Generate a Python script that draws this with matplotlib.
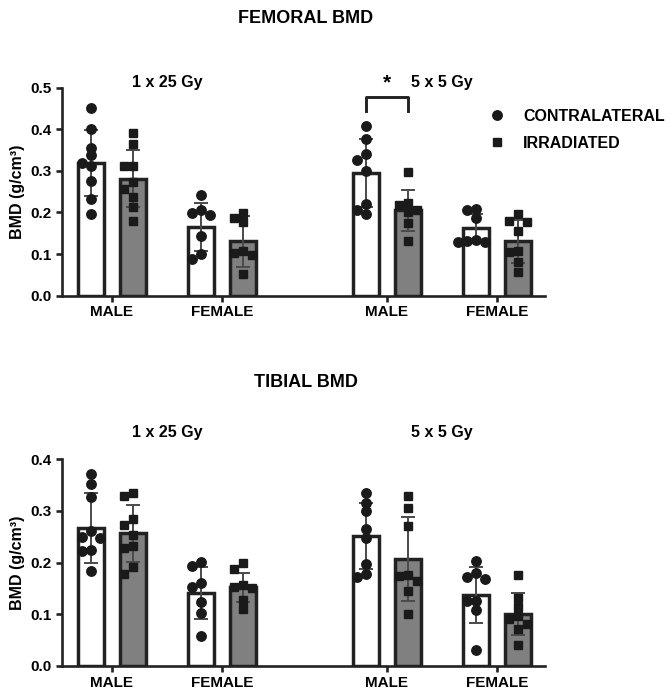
import numpy as np
import matplotlib
matplotlib.use("Agg")
import matplotlib.pyplot as plt
import matplotlib.transforms as mtrans
from matplotlib.lines import Line2D

plt.rcParams['font.family'] = ['Liberation Sans', 'DejaVu Sans']
plt.rcParams['font.weight'] = 'bold'
plt.rcParams['axes.labelweight'] = 'bold'

# group order: 1x25 male, 1x25 female, 5x5 male, 5x5 female
groups = ['MALE', 'FEMALE', 'MALE', 'FEMALE']
doses = ['1 x 25 Gy', '5 x 5 Gy']

# femoral BMD (g/cm3)
fem_contra_pts = [
    [0.452, 0.401, 0.356, 0.337, 0.320, 0.312, 0.276, 0.232, 0.196],
    [0.242, 0.206, 0.199, 0.194, 0.144, 0.099, 0.088],
    [0.409, 0.376, 0.340, 0.326, 0.300, 0.220, 0.206, 0.196],
    [0.208, 0.205, 0.186, 0.133, 0.132, 0.130, 0.128],
]
fem_contra_mean = [0.319, 0.165, 0.295, 0.162]
fem_contra_sd = [0.080, 0.058, 0.081, 0.035]
fem_irr_pts = [
    [0.390, 0.364, 0.312, 0.312, 0.274, 0.256, 0.238, 0.212, 0.180],
    [0.198, 0.186, 0.176, 0.107, 0.102, 0.098, 0.052],
    [0.298, 0.222, 0.218, 0.206, 0.200, 0.175, 0.131],
    [0.196, 0.180, 0.178, 0.155, 0.108, 0.106, 0.082, 0.058],
]
fem_irr_mean = [0.281, 0.131, 0.205, 0.131]
fem_irr_sd = [0.069, 0.061, 0.049, 0.052]

# tibial BMD (g/cm3)
tib_contra_pts = [
    [0.372, 0.352, 0.326, 0.262, 0.250, 0.248, 0.225, 0.222, 0.183],
    [0.201, 0.194, 0.161, 0.152, 0.123, 0.103, 0.058],
    [0.334, 0.315, 0.299, 0.265, 0.247, 0.197, 0.178, 0.173],
    [0.203, 0.179, 0.172, 0.169, 0.125, 0.125, 0.108, 0.030],
]
tib_contra_mean = [0.267, 0.141, 0.252, 0.138]
tib_contra_sd = [0.067, 0.051, 0.064, 0.054]
tib_irr_pts = [
    [0.335, 0.329, 0.284, 0.273, 0.254, 0.232, 0.228, 0.192, 0.178],
    [0.200, 0.188, 0.157, 0.153, 0.150, 0.128, 0.110],
    [0.329, 0.305, 0.270, 0.176, 0.174, 0.165, 0.145, 0.101],
    [0.176, 0.131, 0.114, 0.096, 0.090, 0.082, 0.072, 0.041],
]
tib_irr_mean = [0.257, 0.152, 0.207, 0.101]
tib_irr_sd = [0.055, 0.028, 0.082, 0.041]

xpos = np.array([0, 1, 2.5, 3.5])
off = 0.19
bw = 0.235
edge = '#222222'
grey = '#808080'
fig = plt.figure(figsize=(6.69, 6.97), dpi=100)


def swarm(vals, xc, sx, sy, d=9.0, tol=7.5):
    # center-first swarm layout in pixel space, small overlap allowed
    placed, xs = [], []
    cands = [0, -1, 1, -0.5, 0.5, -1.5, 1.5, -2, 2]
    for v in vals:
        y = v * sy
        for c in cands:
            if all((c * d - px) ** 2 + (y - py) ** 2 >= tol ** 2 for px, py in placed):
                break
        placed.append((c * d, y))
        xs.append(xc + c * d / sx)
    return xs


def panel(rect, cp, cm, cs, ip, im, isd, ymax):
    ax = fig.add_axes(rect)
    sx = rect[2] * 669 / (3.936 + 0.457)
    sy = rect[3] * 697 / ymax
    for pts, m, s, dx, fc, mk in [(cp, cm, cs, -off, 'white', 'o'), (ip, im, isd, off, grey, 's')]:
        ax.bar(xpos + dx, m, width=bw, color=fc, edgecolor=edge, linewidth=2.5, zorder=1)
        ax.errorbar(xpos + dx, m, yerr=s, fmt='none', ecolor='#4a4a4a', elinewidth=1.4,
                    capsize=5, capthick=1.4, zorder=2)
        for i in range(4):
            xs = swarm(pts[i], xpos[i] + dx, sx, sy)
            ax.plot(xs, pts[i], ls='', marker=mk, color='#1a1a1a', ms=6.8 if mk == 'o' else 6.2,
                    zorder=3, clip_on=False)
    ax.set_xlim(-0.457, 3.936)
    ax.set_ylim(0, ymax)
    ticks = np.arange(0, ymax + 0.01, 0.1)
    ax.set_yticks(ticks)
    ax.set_yticklabels(['%.1f' % t for t in ticks])
    ax.set_xticks(xpos)
    ax.set_xticklabels(groups)
    for sp in ['top', 'right']:
        ax.spines[sp].set_visible(False)
    for sp in ['left', 'bottom']:
        ax.spines[sp].set_linewidth(1.9)
        ax.spines[sp].set_color(edge)
    ax.tick_params(width=1.9, length=4, labelsize=11, color=edge, pad=3)
    ax.set_ylabel('BMD (g/cm³)', fontsize=11.5, labelpad=4)
    return ax


ax1 = panel([0.0922, 0.5758, 0.7224, 0.2984], fem_contra_pts, fem_contra_mean, fem_contra_sd,
            fem_irr_pts, fem_irr_mean, fem_irr_sd, 0.5)
ax2 = panel([0.0922, 0.0445, 0.7224, 0.2966], tib_contra_pts, tib_contra_mean, tib_contra_sd,
            tib_irr_pts, tib_irr_mean, tib_irr_sd, 0.4)

# significance bracket
x0, x1 = xpos[2] - off, xpos[2] + off
ax1.plot([x0, x0, x1, x1], [0.445, 0.478, 0.478, 0.445], color=edge, lw=2.1, clip_on=False)
ax1.text((x0 + x1) / 2, 0.488, '*', ha='center', va='bottom', fontsize=15)

# titles
fig.text(0.457, 0.974, 'FEMORAL BMD', ha='center', va='center', fontsize=13)
fig.text(0.457, 0.451, 'TIBIAL BMD', ha='center', va='center', fontsize=13)
for ax, yt in [(ax1, 0.882), (ax2, 0.380)]:
    tr = mtrans.blended_transform_factory(ax.transData, fig.transFigure)
    for j, lab in enumerate(doses):
        xc = (xpos[2 * j] + xpos[2 * j + 1]) / 2
        ax.text(xc, yt, lab, transform=tr, ha='center', va='center', fontsize=11.5)

handles = [Line2D([], [], ls='', marker='o', color='#1a1a1a', ms=6.8, label='CONTRALATERAL'),
           Line2D([], [], ls='', marker='s', color='#1a1a1a', ms=6.2, label='IRRADIATED')]
fig.legend(handles=handles, loc='upper left', bbox_to_anchor=(0.722, 0.853), frameon=False,
           prop={'size': 11.5, 'weight': 'bold'}, handletextpad=1.1, labelspacing=0.75,
           handlelength=1.0, borderaxespad=0)

fig.savefig('out.png', dpi=100)
